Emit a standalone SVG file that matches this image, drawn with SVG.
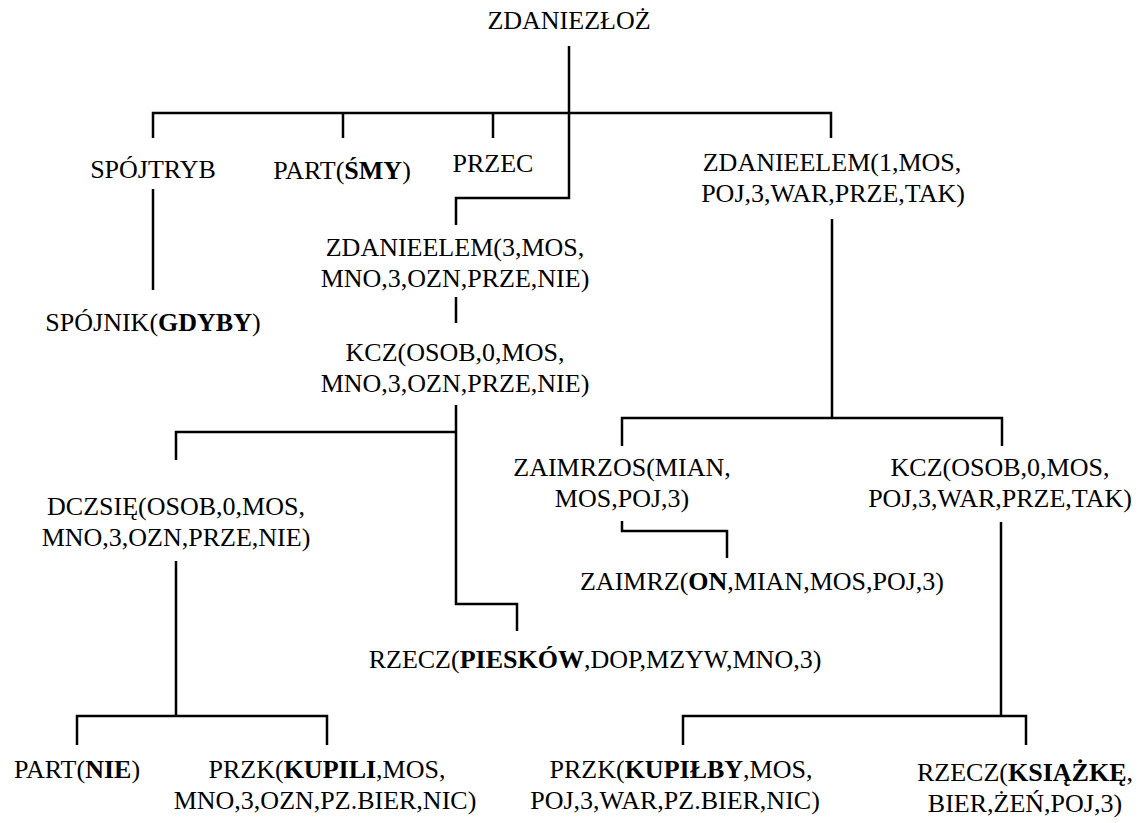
<svg xmlns="http://www.w3.org/2000/svg" width="1146" height="823" viewBox="0 0 1146 823">
  <style>
    text { font-family: "Times New Roman", "Liberation Serif", Tinos, "Nimbus Roman", "Noto Serif", "DejaVu Serif", FreeSerif, Times, serif; font-size: 26px; fill: #000; text-anchor: middle; }
    .b { font-weight: bold; }
    .c { fill: none; stroke: #000; stroke-width: 2.5; stroke-linecap: butt; stroke-linejoin: miter; }
  </style>
  <rect width="1146" height="823" fill="#fff"/>

  <!-- tree edges -->
  <g id="connectors" class="c">
    <path d="M569 46 V198 H456 V225"/>
    <path d="M153 138 V113 H831 V138"/>
    <path d="M343 113 V138"/>
    <path d="M493 113 V138"/>
    <path d="M153 189 V290"/>
    <path d="M456 297 V323"/>
    <path d="M456 405 V604 H517 V631"/>
    <path d="M176 460 V432 H456"/>
    <path d="M176 561 V716"/>
    <path d="M77 745 V716 H327 V745"/>
    <path d="M832 219 V418"/>
    <path d="M622 446 V418 H1002 V446"/>
    <path d="M622 521 V531 H727 V558"/>
    <path d="M1001 522 V716"/>
    <path d="M683 745 V716 H1026 V745"/>
  </g>

  <g id="n-root"><text x="569" y="29">ZDANIEZŁOŻ</text></g>
  <g id="n-spojtryb"><text x="153" y="178">SPÓJTRYB</text></g>
  <g id="n-part-smy"><text x="342" y="179">PART(<tspan class="b">ŚMY</tspan>)</text></g>
  <g id="n-przec"><text x="493" y="172">PRZEC</text></g>
  <g id="n-zdanieelem1">
    <text x="832" y="171">ZDANIEELEM(1,MOS,</text>
    <text x="833" y="202">POJ,3,WAR,PRZE,TAK)</text>
  </g>
  <g id="n-spojnik"><text x="153" y="331">SPÓJNIK(<tspan class="b">GDYBY</tspan>)</text></g>
  <g id="n-zdanieelem3">
    <text x="455" y="256">ZDANIEELEM(3,MOS,</text>
    <text x="455" y="287">MNO,3,OZN,PRZE,NIE)</text>
  </g>
  <g id="n-kcz-mno">
    <text x="455" y="361">KCZ(OSOB,0,MOS,</text>
    <text x="455" y="392">MNO,3,OZN,PRZE,NIE)</text>
  </g>
  <g id="n-dczsie">
    <text x="176" y="515">DCZSIĘ(OSOB,0,MOS,</text>
    <text x="176" y="546">MNO,3,OZN,PRZE,NIE)</text>
  </g>
  <g id="n-rzecz-pieskow"><text x="595" y="668">RZECZ(<tspan class="b">PIESKÓW</tspan>,DOP,MZYW,MNO,3)</text></g>
  <g id="n-zaimrzos">
    <text x="622" y="476">ZAIMRZOS(MIAN,</text>
    <text x="622" y="507">MOS,POJ,3)</text>
  </g>
  <g id="n-zaimrz-on"><text x="762" y="590">ZAIMRZ(<tspan class="b">ON</tspan>,MIAN,MOS,POJ,3)</text></g>
  <g id="n-kcz-poj">
    <text x="1000" y="476">KCZ(OSOB,0,MOS,</text>
    <text x="1000" y="507">POJ,3,WAR,PRZE,TAK)</text>
  </g>
  <g id="n-part-nie"><text x="77" y="778">PART(<tspan class="b">NIE</tspan>)</text></g>
  <g id="n-przk-kupili">
    <text x="327" y="778">PRZK(<tspan class="b">KUPILI</tspan>,MOS,</text>
    <text x="325" y="809">MNO,3,OZN,PZ.BIER,NIC)</text>
  </g>
  <g id="n-przk-kupilby">
    <text x="681" y="778">PRZK(<tspan class="b">KUPIŁBY</tspan>,MOS,</text>
    <text x="675" y="809">POJ,3,WAR,PZ.BIER,NIC)</text>
  </g>
  <g id="n-rzecz-ksiazke">
    <text x="1025" y="781">RZECZ(<tspan class="b">KSIĄŻKĘ</tspan>,</text>
    <text x="1025" y="812">BIER,ŻEŃ,POJ,3)</text>
  </g>
</svg>
